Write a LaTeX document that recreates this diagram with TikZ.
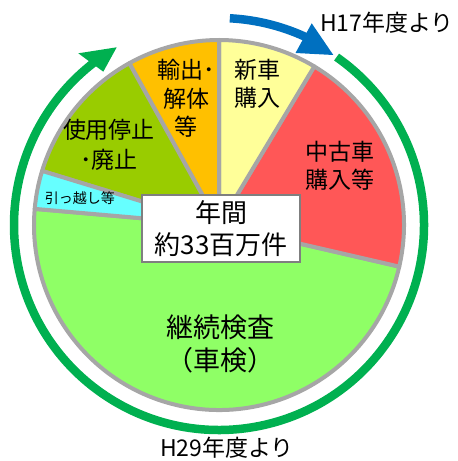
\documentclass[tikz,border=0pt]{standalone}
\usepackage{fontspec}
\newfontfamily\jp{Noto Sans CJK JP}
\definecolor{cyel}{HTML}{FFFF99}
\definecolor{cred}{HTML}{FF5757}
\definecolor{clgreen}{HTML}{8FFF66}
\definecolor{ccyan}{HTML}{66FFFF}
\definecolor{colive}{HTML}{99CC00}
\definecolor{corange}{HTML}{FFC000}
\definecolor{cring}{HTML}{00B050}
\definecolor{cblue}{HTML}{0070C0}
\definecolor{pgrey}{HTML}{A6A6A6}
\definecolor{bgrey}{HTML}{7F7F7F}
\begin{document}
\begin{tikzpicture}[x=1pt,y=1pt,
  slice/.style={draw=pgrey,line width=4pt,line join=round},
  lab/.style={inner sep=0pt,align=center,font=\jp\fontsize{23}{28}\selectfont},
  ringshaft/.style={draw=cring,line width=8.5pt},
  blueshaft/.style={draw=cblue,line width=8.5pt}]
\useasboundingbox (0,0) rectangle (458,461);
\coordinate (c) at (219,236);
% slices
\filldraw[slice,fill=clgreen] (c) -- ++(-13:185) arc[start angle=-13,end angle=-185,radius=185] -- cycle;
\filldraw[slice,fill=cred] (c) -- ++(-13:185) arc[start angle=-13,end angle=59,radius=185] -- cycle;
\filldraw[slice,fill=cyel] (c) -- ++(59:185) arc[start angle=59,end angle=90,radius=185] -- cycle;
\filldraw[slice,fill=corange] (c) -- ++(90:185) arc[start angle=90,end angle=119,radius=185] -- cycle;
\filldraw[slice,fill=colive] (c) -- ++(119:185) arc[start angle=119,end angle=163,radius=185] -- cycle;
\filldraw[slice,fill=ccyan] (c) -- ++(163:185) arc[start angle=163,end angle=175,radius=185] -- cycle;
% outer green arrow
\draw[ringshaft] (c) ++(55:205) arc[start angle=55,end angle=-234,radius=205];
\fill[cring] (116.7,413.7) -- (78.3,407.7) -- (103.3,389.3) -- cycle;
% blue arrow
\draw[blueshaft] (c) ++(87:207) arc[start angle=87,end angle=64,radius=207];
\fill[cblue] (333.3,406) -- (311.7,437.7) -- (295.5,408) -- cycle;
% labels
\node[lab] (shinsha) at (257,377.5) {新車\\購入};
\node[lab,font=\jp\fontsize{23}{28.5}\selectfont] (yushutsu) at (186,362.5) {輸出･\\解体\\等};
\node[lab,font=\jp\fontsize{23}{30}\selectfont] (shiyou) at (109,316) {使用停止\\･廃止};
\node[lab] (chuuko) at (340,295) {中古車\\購入等};
\node[lab,font=\jp\fontsize{14}{16}\selectfont] (hikkoshi) at (80,263) {引っ越し等};
\node[draw=bgrey,line width=2pt,fill=white,minimum width=158pt,minimum height=67pt,inner sep=0pt] (total) at (221,232.5) {};
\node[lab,font=\jp\fontsize{26}{32}\selectfont] (totaltext) at (total.center) {年間\\約33百万件};
\node[lab,font=\jp\fontsize{27}{33}\selectfont] (keizoku) at (220,117.5) {継続検査\\（車検）};
\node[lab] (h29) at (227,13) {H29年度より};
\node[lab] (h17) at (387,438) {H17年度より};
\end{tikzpicture}
\end{document}
